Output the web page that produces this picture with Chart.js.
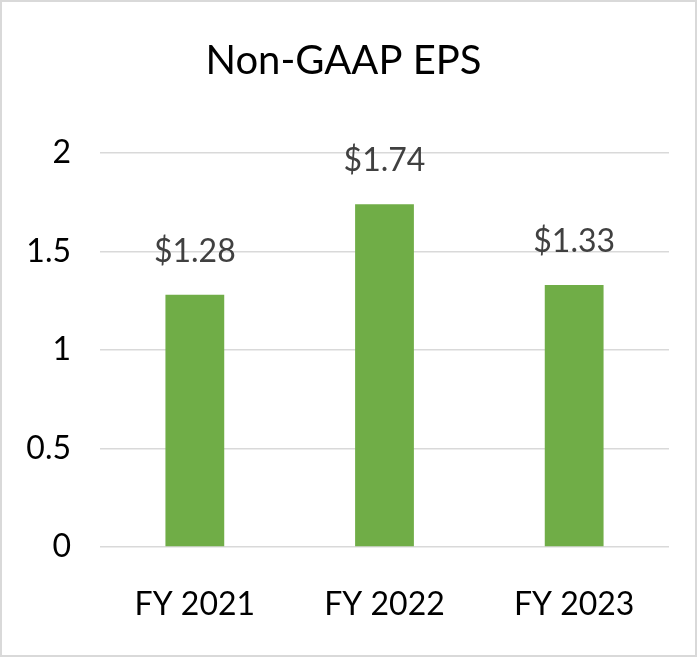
<!DOCTYPE html>
<html>
<head>
<meta charset="utf-8">
<script src="https://cdn.jsdelivr.net/npm/chart.js@4/dist/chart.umd.min.js"></script>
<style>
  html, body { margin: 0; padding: 0; background: #fff; }
  #wrap { width: 697px; height: 657px; }
</style>
</head>
<body>
<div id="wrap"><canvas id="epsChart" width="697" height="657"></canvas></div>
<script>
// data
const categories = ['FY 2021', 'FY 2022', 'FY 2023'];
const nonGaapEps = [1.28, 1.74, 1.33];
const yTicks = [0, 0.5, 1, 1.5, 2];

const FONT = 'Lato, "Open Sans", sans-serif';

// value labels above bars
const barValueLabels = {
    id: 'barValueLabels',
    afterDatasetsDraw(chart) {
        const ctx = chart.ctx;
        const meta = chart.getDatasetMeta(0);
        ctx.save();
        ctx.font = '32px ' + FONT;
        ctx.fillStyle = '#404040';
        ctx.textAlign = 'center';
        ctx.textBaseline = 'alphabetic';
        meta.data.forEach((bar, i) => {
            ctx.fillText('$' + nonGaapEps[i].toFixed(2), bar.x, bar.y - 33);
        });
        ctx.restore();
    }
};

// light grey frame round the whole chart
const chartFrame = {
    id: 'chartFrame',
    beforeDraw(chart) {
        const ctx = chart.ctx;
        ctx.save();
        ctx.fillStyle = '#ffffff';
        ctx.fillRect(0, 0, chart.width, chart.height);
        ctx.strokeStyle = '#d9d9d9';
        ctx.lineWidth = 2;
        ctx.strokeRect(1, 1, chart.width - 2, chart.height - 2);
        ctx.restore();
    }
};

new Chart(document.getElementById('epsChart').getContext('2d'), {
    type: 'bar',
    data: {
        labels: categories,
        datasets: [{
            data: nonGaapEps,
            backgroundColor: '#70ad47',
            categoryPercentage: 1,
            barPercentage: 0.31
        }]
    },
    options: {
        responsive: false,
        animation: false,
        devicePixelRatio: 1,
        layout: { padding: { top: 0, right: 28, bottom: 0, left: 18 } },
        plugins: {
            legend: { display: false },
            tooltip: { enabled: false },
            title: {
                display: true,
                text: 'Non-GAAP EPS',
                color: '#000000',
                font: { family: FONT, size: 40, weight: 'normal' },
                padding: { top: 37, bottom: 68 }
            }
        },
        scales: {
            x: {
                grid: { display: false },
                border: { display: false },
                ticks: {
                    color: '#000000',
                    font: { family: FONT, size: 32 },
                    padding: 30
                },
                afterFit(scale) { scale.height = 110; }
            },
            y: {
                min: yTicks[0],
                max: yTicks[yTicks.length - 1],
                afterBuildTicks(scale) {
                    scale.ticks = yTicks.map(v => ({ value: v }));
                },
                grid: { color: '#d9d9d9', lineWidth: 1.5, drawTicks: false },
                border: { display: false },
                ticks: {
                    color: '#000000',
                    font: { family: FONT, size: 32 },
                    padding: 29,
                    callback: v => String(v)
                },
                afterFit(scale) { scale.width = 82; }
            }
        }
    },
    plugins: [chartFrame, barValueLabels]
});
</script>
</body>
</html>
